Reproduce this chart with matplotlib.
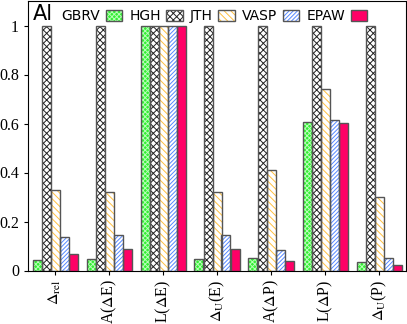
import numpy as np
import matplotlib
matplotlib.use("Agg")
import matplotlib.pyplot as plt
from matplotlib.ticker import FormatStrFormatter

categories = [r"$\Delta_{\rm rel}$", r"A($\Delta$E)", r"L($\Delta$E)", r"$\Delta_{\rm U}$(E)",
              r"A($\Delta$P)", r"L($\Delta$P)", r"$\Delta_{\rm U}$(P)"]
series = ["GBRV", "HGH", "JTH", "VASP", "EPAW"]
gbrv = [0.042, 0.046, 1.0, 0.046, 0.052, 0.607, 0.033]
hgh = [1.0, 1.0, 1.0, 1.0, 1.0, 1.0, 1.0]
jth = [0.327, 0.321, 1.0, 0.321, 0.41, 0.74, 0.30]
vasp = [0.137, 0.146, 1.0, 0.146, 0.082, 0.614, 0.051]
epaw = [0.069, 0.086, 1.0, 0.086, 0.040, 0.603, 0.024]
values = [gbrv, hgh, jth, vasp, epaw]

styles = [
    dict(fc="#33ee33", hc="#b8ffb8", hatch="xxxxxxx"),
    dict(fc="white", hc="#222222", hatch="xxxxx"),
    dict(fc="white", hc="#ffc040", hatch="\\\\\\\\\\"),
    dict(fc="white", hc="#5588ff", hatch="////////"),
    dict(fc="#ff0066", hc="#ff0066", hatch=None),
]

plt.rcParams["font.family"] = ["Liberation Serif", "DejaVu Serif"]
plt.rcParams["mathtext.fontset"] = "stix"
plt.rcParams["hatch.linewidth"] = 0.7

fig = plt.figure(figsize=(4.07, 3.24), dpi=100)
ax = fig.add_axes([28 / 407, (324 - 270.5) / 324, 378 / 407, 269.5 / 324])

x = np.arange(len(categories))
w = 1 / 6
handles = []
for i, (name, vals, st) in enumerate(zip(series, values, styles)):
    pos = x + (i - 2) * w
    b1 = ax.bar(pos, vals, w, color=st["fc"], edgecolor=st["hc"], linewidth=0,
                hatch=st["hatch"], zorder=2)
    b2 = ax.bar(pos, vals, w, fill=False, edgecolor="#555555", linewidth=1.0, zorder=3)
    handles.append((b1, b2))

ax.set_xlim(-0.5, 6.5)
ax.set_ylim(0, 1.1)
ax.set_yticks([0, 0.2, 0.4, 0.6, 0.8, 1.0])
ax.yaxis.set_major_formatter(FormatStrFormatter("%g"))
ax.set_xticks(x)
ax.set_xticklabels(categories, rotation=90)
ax.tick_params(axis="both", direction="out", labelsize=11.5, length=3)

leg = ax.legend(handles, series, ncol=5, loc="upper left", bbox_to_anchor=(0.066, 1.0),
                frameon=False, markerfirst=False, handlelength=1.2, handleheight=0.75,
                columnspacing=0.5, handletextpad=0.4, borderaxespad=0.2,
                prop={"family": "DejaVu Sans", "size": 10})
ax.text(0.012, 0.99, "Al", transform=ax.transAxes, ha="left", va="top",
        fontsize=15, family="DejaVu Sans")

fig.savefig("out.png", dpi=100)
